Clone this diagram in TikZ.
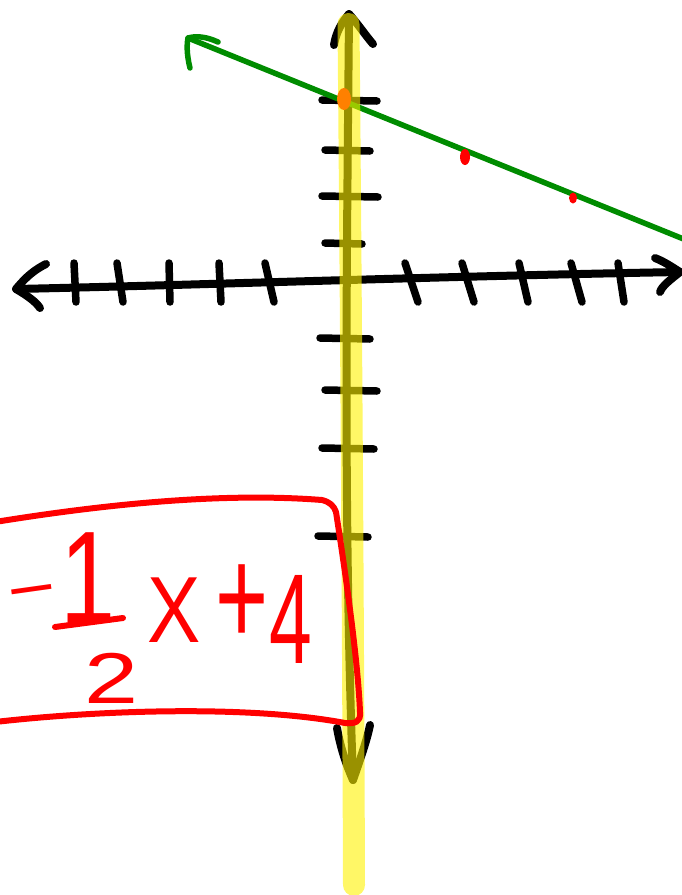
\documentclass[tikz,border=0pt]{standalone}
\usepackage{fontspec}
\setsansfont{Liberation Sans}
\begin{document}
\begin{tikzpicture}[x=1pt,y=-1pt,line cap=round,line join=round,
  axis/.style={line width=8pt,black},
  tick/.style={line width=7.5pt,black},
  grn/.style={line width=5.5pt,green!55!black},
  redpen/.style={line width=6pt,red},
  glyph/.style={red,inner sep=0pt,anchor=base}]
\useasboundingbox (0,0) rectangle (682,895);
% horizontal axis
\coordinate (xl) at (16,289);
\coordinate (xr) at (680,272);
\draw[axis] (xl) .. controls (200,285) and (450,276) .. (xr);
\draw[axis] (46,264) .. controls (30,272) and (22,282) .. (xl) .. controls (28,296) and (36,302) .. (40,308);
\draw[axis] (655,258) .. controls (665,262) and (672,267) .. (xr) .. controls (670,280) and (662,286) .. (660,292);
% x ticks
\foreach \a/\b in {74/76,117/123,169/170,219/221,265/274,405/418,462/474,519/528,571/582,618/624}
  \draw[tick] (\a,263) -- (\b,302);
% vertical axis
\coordinate (yt) at (349,14);
\coordinate (yb) at (353,780);
\draw[axis] (yt) .. controls (347,250) and (343,500) .. (yb);
\draw[axis] (334,45) .. controls (336,32) and (342,22) .. (yt) .. controls (358,24) and (366,36) .. (373,44);
\draw[axis] (337,728) .. controls (340,745) and (345,762) .. (yb) .. controls (360,760) and (367,740) .. (370,725);
% y ticks
\foreach \y/\l/\r in {100/322/377,150/325/370,196/322/378,243/325/362,338/320/370,390/325/377,448/322/374,536/318/368}
  \draw[tick] (\l,\y) -- (\r,\y+1);
% green line
\coordinate (gl) at (188,38);
\coordinate (gr) at (686,240);
\draw[grn] (gl) -- (gr);
\draw[grn] (218,42) .. controls (205,36) and (195,36) .. (gl) .. controls (186,48) and (188,60) .. (190,68);
% yellow highlight
\draw[line width=22pt,yellow,opacity=0.6] (348.5,24) .. controls (351,300) and (353,600) .. (354,885);
% points
\fill[orange] (344,99) ellipse (7pt and 11pt);
\fill[red] (465,157) ellipse (5pt and 8pt);
\fill[red] (573,198) ellipse (4pt and 5.5pt);
% red box
\draw[redpen] (-5,522) .. controls (100,505) and (220,492) .. (322,500) .. controls (330,502) and (334,506) .. (336,512)
  .. controls (345,570) and (358,660) .. (360,712) .. controls (361,722) and (355,724) .. (345,723)
  .. controls (250,705) and (100,710) .. (-5,722);
% expression
\node[glyph,font=\sffamily\fontsize{72}{72}\selectfont,rotate=8] (m) at (34,608) {–};
\node[glyph,font=\sffamily\fontsize{132}{132}\selectfont,xscale=0.75] (one) at (88,623) {1};
\draw[redpen] (55,627) -- (123,618);
\node[glyph,font=\sffamily\fontsize{72}{72}\selectfont,xscale=1.35] (two) at (112,703) {2};
\node[glyph,font=\sffamily\fontsize{94}{94}\selectfont,xscale=0.85] (x) at (174,642) {X};
\node[glyph,font=\sffamily\fontsize{140}{140}\selectfont,xscale=0.65] (p) at (242,645) {+};
\node[glyph,font=\sffamily\fontsize{128}{128}\selectfont,xscale=0.6] (four) at (291,663) {4};
\end{tikzpicture}
\end{document}
